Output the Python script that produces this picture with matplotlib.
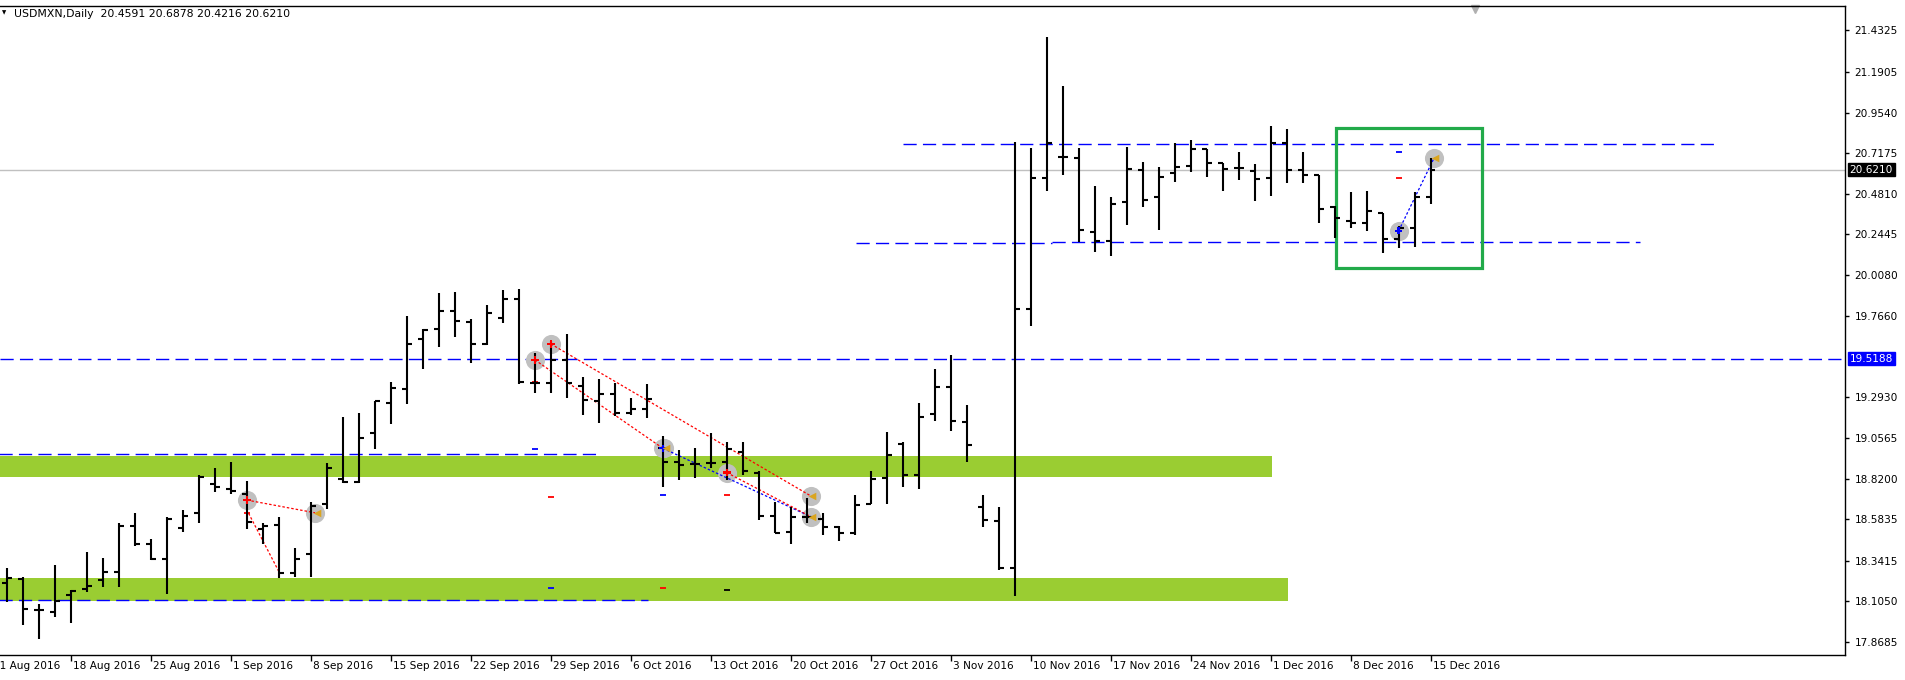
import matplotlib
matplotlib.use("Agg")
import matplotlib.pyplot as plt
import matplotlib.transforms as mtransforms
import numpy as np

# daily USDMXN bars, 12 Aug 2016 .. 15 Dec 2016 (weekdays)
opens = [18.214, 18.235, 18.054, 18.045, 18.142, 18.177, 18.229, 18.278, 18.546, 18.439,
         18.352, 18.534, 18.618, 18.791, 18.758, 18.729, 18.526, 18.550, 18.268, 18.379,
         18.670, 18.816, 18.802, 19.088, 19.263, 19.341, 19.636, 19.691, 19.799, 19.733,
         19.605, 19.759, 19.865, 19.376, 19.376, 19.512, 19.360, 19.273, 19.314, 19.205,
         19.228, 19.001, 18.919, 18.904, 18.910, 18.915, 18.977, 18.855, 18.604, 18.511,
         18.599, 18.583, 18.540, 18.505, 18.672, 18.825, 19.021, 18.843, 19.198, 19.356,
         19.152, 18.656, 18.575, 18.301, 19.809, 20.574, 20.696, 20.687, 20.259, 20.207,
         20.432, 20.619, 20.463, 20.603, 20.644, 20.739, 20.657, 20.629, 20.615, 20.574,
         20.774, 20.619, 20.590, 20.405, 20.324, 20.312, 20.366, 20.215, 20.283, 20.4591]
highs = [18.297, 18.245, 18.087, 18.317, 18.171, 18.390, 18.355, 18.560, 18.618, 18.468,
         18.594, 18.637, 18.841, 18.880, 18.917, 18.806, 18.563, 18.596, 18.414, 18.686,
         18.913, 19.177, 19.201, 19.275, 19.382, 19.768, 19.694, 19.904, 19.910, 19.749,
         19.832, 19.920, 19.926, 19.551, 19.624, 19.663, 19.411, 19.399, 19.376, 19.292,
         19.370, 19.069, 18.987, 18.997, 19.088, 19.036, 19.036, 18.865, 18.682, 18.653,
         18.705, 18.618, 18.546, 18.725, 18.864, 19.091, 19.031, 19.261, 19.459, 19.540,
         19.249, 18.724, 18.652, 20.780, 20.747, 21.396, 21.108, 20.747, 20.525, 20.459,
         20.753, 20.663, 20.636, 20.774, 20.794, 20.739, 20.661, 20.722, 20.652, 20.875,
         20.856, 20.722, 20.590, 20.409, 20.489, 20.497, 20.366, 20.292, 20.493, 20.6878]
lows = [18.103, 17.967, 17.883, 18.015, 17.977, 18.161, 18.190, 18.186, 18.427, 18.346,
        18.146, 18.511, 18.560, 18.744, 18.729, 18.525, 18.437, 18.239, 18.245, 18.245,
        18.641, 18.797, 18.797, 18.991, 19.137, 19.253, 19.457, 19.589, 19.648, 19.496,
        19.599, 19.729, 19.370, 19.317, 19.317, 19.288, 19.191, 19.143, 19.187, 19.191,
        19.172, 18.773, 18.812, 18.826, 18.880, 18.812, 18.841, 18.579, 18.501, 18.437,
        18.560, 18.492, 18.459, 18.492, 18.672, 18.674, 18.773, 18.761, 19.157, 19.099,
        18.918, 18.540, 18.287, 18.137, 19.711, 20.498, 20.589, 20.197, 20.143, 20.119,
        20.300, 20.405, 20.271, 20.551, 20.609, 20.580, 20.498, 20.561, 20.440, 20.469,
        20.545, 20.541, 20.308, 20.221, 20.279, 20.265, 20.133, 20.162, 20.172, 20.4216]
closes = [18.243, 18.060, 18.054, 18.109, 18.167, 18.196, 18.278, 18.546, 18.439, 18.350,
          18.583, 18.604, 18.831, 18.773, 18.750, 18.569, 18.546, 18.268, 18.352, 18.662,
          18.884, 18.802, 19.059, 19.271, 19.347, 19.605, 19.685, 19.799, 19.741, 19.605,
          19.788, 19.867, 19.382, 19.376, 19.512, 19.376, 19.279, 19.314, 19.205, 19.224,
          19.286, 18.919, 18.900, 18.904, 18.910, 18.993, 18.867, 18.604, 18.501, 18.599,
          18.599, 18.540, 18.505, 18.667, 18.817, 18.957, 18.843, 19.181, 19.356, 19.157,
          19.016, 18.578, 18.301, 19.809, 20.574, 20.778, 20.696, 20.269, 20.207, 20.422,
          20.626, 20.444, 20.580, 20.638, 20.739, 20.661, 20.626, 20.629, 20.568, 20.774,
          20.619, 20.590, 20.390, 20.337, 20.312, 20.382, 20.215, 20.279, 20.463, 20.6210]

date_pos = [-1, 4, 9, 14, 19, 24, 29, 34, 39, 44, 49, 54, 59, 64, 69, 74, 79, 84, 89]
date_labels = ["11 Aug 2016", "18 Aug 2016", "25 Aug 2016", "1 Sep 2016", "8 Sep 2016",
               "15 Sep 2016", "22 Sep 2016", "29 Sep 2016", "6 Oct 2016", "13 Oct 2016",
               "20 Oct 2016", "27 Oct 2016", "3 Nov 2016", "10 Nov 2016", "17 Nov 2016",
               "24 Nov 2016", "1 Dec 2016", "8 Dec 2016", "15 Dec 2016"]
price_ticks = [21.4325, 21.1905, 20.9540, 20.7175, 20.4810, 20.2445, 20.0080, 19.7660,
               19.2930, 19.0565, 18.8200, 18.5835, 18.3415, 18.1050, 17.8685]

last_price = 20.6210
level_price = 19.5188

# green zones: (bottom, top, end bar)
zone_low = [18.831, 18.108]
zone_high = [18.952, 18.241]
zone_end = [79.1, 80.1]

# blue dashed lines: (price, start bar, end bar)
hline_price = [18.962, 18.110, 20.773, 20.193, 20.200]
hline_start = [-0.5, -0.5, 56.0, 53.1, 65.3]
hline_end = [37.1, 40.1, 106.7, 65.3, 102.1]

# trade arrows
open_x = [15.0, 33.0, 34.0, 41.0, 45.0, 87.0]
open_y = [18.695, 19.512, 19.605, 18.997, 18.855, 20.265]
open_col = ["red", "red", "red", "blue", "red", "blue"]
close_x = [19.25, 50.25, 41.1, 50.25, 89.2]
close_y = [18.621, 18.719, 18.997, 18.598, 20.687]
trade_from = [(15.0, 18.695), (15.1, 18.618), (34.0, 19.605), (33.0, 19.512), (41.0, 18.997), (45.0, 18.855), (87.0, 20.265)]
trade_to = [(19.25, 18.621), (17.0, 18.277), (50.25, 18.719), (41.0, 18.997), (50.25, 18.598), (50.25, 18.598), (89.2, 20.687)]
trade_col = ["red", "red", "red", "red", "blue", "red", "blue"]
# stop / target dashes
dash_x = [15.0, 33.0, 33.0, 34.0, 41.0, 45.0, 41.0, 45.0, 34.0, 87.0, 87.0]
dash_y = [18.618, 19.385, 18.991, 18.711, 18.723, 18.723, 18.181, 18.173, 18.181, 20.722, 20.571]
dash_col = ["red", "red", "blue", "red", "blue", "red", "red", "black", "blue", "blue", "red"]

W, H = 1906, 680
fig = plt.figure(figsize=(W / 100, H / 100), dpi=100)
fig.patch.set_facecolor("white")
ax = fig.add_axes([0, 25 / H, 1845 / W, 649 / H])

x = np.arange(len(opens))

for lo, hi, end in zip(zone_low, zone_high, zone_end):
    ax.fill_between([-1, end], lo, hi, color="#9acd32", lw=0, zorder=1)

dash_style = (0, (9.5, 4.5))
ax.axhline(level_price, color="#0000ff", lw=1, ls=dash_style, zorder=1.5)
ax.axhline(last_price, color="#c0c0c0", lw=1, zorder=1.5)
for p, s, e in zip(hline_price, hline_start, hline_end):
    ax.hlines(p, s, e, color="#0000ff", lw=1, linestyles=[dash_style], zorder=1.5)

# selection box
ax.add_patch(plt.Rectangle((83.1, 20.048), 9.1, 0.816, fill=False, ec="#22aa4a", lw=2.3, zorder=2))

# trade circles and lines
ax.scatter(open_x + close_x, open_y + close_y, s=190, color="#c0c0c0", lw=0, zorder=2)
for (x0, y0), (x1, y1), c in zip(trade_from, trade_to, trade_col):
    ax.plot([x0, x1], [y0, y1], color=c, lw=0.9, ls=(0, (2, 1.6)), zorder=2.5)
for dx, dy, c in zip(dash_x, dash_y, dash_col):
    ax.hlines(dy, dx - 0.2, dx + 0.2, color=c, lw=1.3, zorder=2.5)

# OHLC bars
ax.vlines(x, lows, highs, color="black", lw=1.5, zorder=3)
ax.hlines(opens, x - 0.3, x, color="black", lw=1.5, zorder=3)
ax.hlines(closes, x, x + 0.3, color="black", lw=1.5, zorder=3)

ax.scatter(open_x, open_y, marker="P", s=28, c=open_col, lw=0, zorder=4)
ax.scatter([cx + 0.1 for cx in close_x], close_y, marker="<", s=30, color="#daa520", lw=0, zorder=4)

# axes styling
for side in ["top", "bottom", "right"]:
    ax.spines[side].set_color("black")
    ax.spines[side].set_linewidth(1)
ax.spines["left"].set_visible(False)

ax.yaxis.tick_right()
ax.set_yticks(price_ticks)
ax.set_yticklabels([f"{v:.4f}" for v in price_ticks])
ax.tick_params(axis="y", direction="out", length=3, width=1, pad=4, labelsize=7.6)
ax.set_xticks(date_pos[1:])
ax.set_xticklabels([])
ax.tick_params(axis="x", direction="out", length=4, width=1)

# limits last (set_xticks would widen them)
ax.set_xlim(-0.44, 114.9)
ax.set_ylim(17.792, 21.575)

# date labels, left aligned at the bar like the terminal does
date_trans = mtransforms.blended_transform_factory(ax.transData, ax.transAxes) + \
    mtransforms.ScaledTranslation(2 / 100, -11 / 100, fig.dpi_scale_trans)
for pos, lab in zip(date_pos, date_labels):
    ax.text(pos, 0, lab, transform=date_trans, fontsize=7.6, ha="left", va="center", clip_on=False)

trans = mtransforms.blended_transform_factory(ax.transAxes, ax.transData)
ax.text(1.0025, last_price, "20.6210", transform=trans, fontsize=7.6, color="white",
        va="center", ha="left", bbox=dict(boxstyle="square,pad=0.15", fc="black", ec="black"))
ax.text(1.0025, level_price, "19.5188", transform=trans, fontsize=7.6, color="white",
        va="center", ha="left", bbox=dict(boxstyle="square,pad=0.15", fc="#0000ff", ec="#0000ff"))

ax.text(14 / 1845, 1 - 8 / 649, "USDMXN,Daily  20.4591 20.6878 20.4216 20.6210",
        transform=ax.transAxes, fontsize=7.8, va="center", ha="left")
ax.text(2 / 1845, 1 - 7 / 649, "\u25bc", transform=ax.transAxes, fontsize=4, va="center", ha="left")
ax.plot([1474.6 / 1845], [1 - 3 / 649], marker="v", ms=6, color="#b0b0b0", transform=ax.transAxes, clip_on=False)

fig.savefig("out.png", dpi=100, facecolor="white")
